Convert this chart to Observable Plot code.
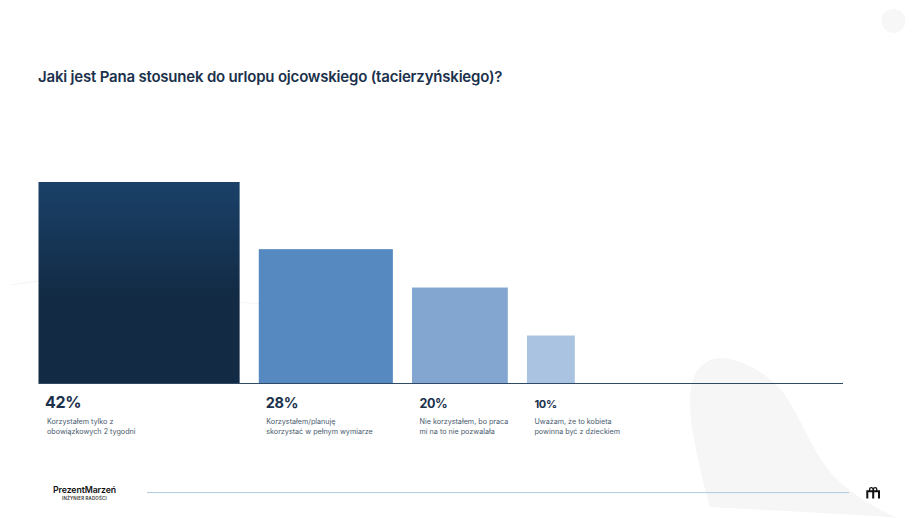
<!DOCTYPE html>
<html lang="pl">
<head>
<meta charset="utf-8">
<script src="https://cdn.jsdelivr.net/npm/d3@7"></script>
<script src="https://cdn.jsdelivr.net/npm/@observablehq/plot@0.6"></script>
<style>
html,body{margin:0;padding:0;background:#fff;width:920px;height:518px;overflow:hidden;font-family:Inter,"Open Sans",sans-serif}
#wrap{position:relative;width:920px;height:518px}
#deco{position:absolute;left:0;top:0}
#chart{position:absolute;left:0;top:0}
#chart svg{background:transparent}
.pct{letter-spacing:-.35px}
h1{position:absolute;left:38px;top:66.5px;margin:0;font-size:15px;line-height:20px;font-weight:600;letter-spacing:-.2px;color:#1b314b;white-space:nowrap}
.brand{position:absolute;left:53px;top:484px;font-size:8.75px;line-height:12px;font-weight:600;color:#111;letter-spacing:-.1px;white-space:nowrap}
.sub{position:absolute;left:62px;top:495.5px;font-size:4.4px;line-height:6px;font-weight:600;color:#333;letter-spacing:.2px;white-space:nowrap}
</style>
</head>
<body>
<div id="wrap">
<svg id="deco" width="920" height="518" viewBox="0 0 920 518">
  <circle cx="893.5" cy="21" r="12" fill="#f7f7f7"/>
  <path d="M710 507 C700 470 690 430 690 400 C690 370 705 358 722 358 C745 360 770 375 785 395 C805 425 815 460 840 482 C860 500 880 510 897 518 C880 516 800 512 710 507 Z" fill="#f6f6f6"/>
  <path d="M11 285 C60 275 130 278 240 302 C270 306 300 303 322 300" fill="none" stroke="#f5f5f5" stroke-width="1.2"/>
  <g fill="none" stroke="#111">
    <path d="M867.3 498.5 V491.2 H879 V498.5 M873.2 498.5 V491.2" stroke-width="2"/>
    <path d="M869.6 491 V489.3 A1.7 1.7 0 0 1 873 489.3 V491 M873.4 491 V489.3 A1.7 1.7 0 0 1 876.8 489.3 V491" stroke-width="1.3"/>
  </g>
</svg>
<div id="chart"></div>
<h1>Jaki jest Pana stosunek do urlopu ojcowskiego (tacierzyńskiego)?</h1>
<div class="brand">PrezentMarzeń</div>
<div class="sub">INŻYNIER RADOŚCI</div>
</div>
<script>
const shares = [42, 28, 20, 10];
const percentLabels = ["42%", "28%", "20%", "10%"];
const answers = [
  "Korzystałem tylko z\nobowiązkowych 2 tygodni",
  "Korzystałem/planuję\nskorzystać w pełnym wymiarze",
  "Nie korzystałem, bo praca\nmi na to nie pozwalała",
  "Uważam, że to kobieta\npowinna być z dzieckiem"
];
const fills = ["url(#topBar)", "#5689c0", "#82a6d0", "#a9c3e0"];
const percentSizes = [16, 14.5, 12.5, 11];
const gap = 4;

let cum = 0;
const rows = shares.map((v, i) => {
  const x1 = cum;
  cum += v + gap;
  return {x1, x2: x1 + v, v, label: percentLabels[i], answer: answers[i], fill: fills[i], size: percentSizes[i]};
});
const axisEnd = 168;

const defs = () => {
  const d = d3.create("svg:defs");
  const g = d.append("linearGradient").attr("id", "topBar").attr("x1", 0).attr("y1", 0).attr("x2", 0).attr("y2", 1);
  g.append("stop").attr("offset", "0%").attr("stop-color", "#1a4169");
  g.append("stop").attr("offset", "58%").attr("stop-color", "#122a43");
  g.append("stop").attr("offset", "100%").attr("stop-color", "#122a43");
  return d.node();
};

const chart = Plot.plot({
  width: 920, height: 518,
  margin: 0,
  style: {background: "transparent", fontFamily: "Inter, sans-serif"},
  x: {domain: [0, axisEnd], range: [38.5, 843], axis: null},
  y: {domain: [0, 42], range: [383.5, 182], axis: null},
  color: {type: "identity"},
  marks: [
    defs,
    Plot.rect(rows, {x1: "x1", x2: "x2", y1: 0, y2: "v", fill: "fill"}),
    Plot.ruleY([0], {x1: 0, x2: axisEnd, stroke: "#2f4a66", strokeWidth: 1, dy: -0.5}),
    ...rows.map((r, i) => Plot.text([r], {
      x: "x1", y: 0, text: "label", textAnchor: "start", dy: [18.5, 19, 20, 20.5][i], dx: [6, 6.5, 7, 7][i],
      fontSize: r.size, fontWeight: 700, fill: "#1b314b", className: "pct"
    })),
    ...rows.map((r, i) => Plot.text([r], {
      x: "x1", y: 0, text: "answer", textAnchor: "start", lineAnchor: "top", dy: 33.5, dx: [8, 7, 7, 7][i],
      fontSize: 7.2, lineHeight: 1.36, fill: "#4a5a6e"
    }))
  ]
});
document.getElementById("chart").append(chart);

const footerX = [147, 849];
document.getElementById("deco").insertAdjacentHTML("beforeend",
  `<line x1="${footerX[0]}" x2="${footerX[1]}" y1="492.6" y2="492.6" stroke="#b0c8e4" stroke-width="1"/>`);
</script>
</body>
</html>
